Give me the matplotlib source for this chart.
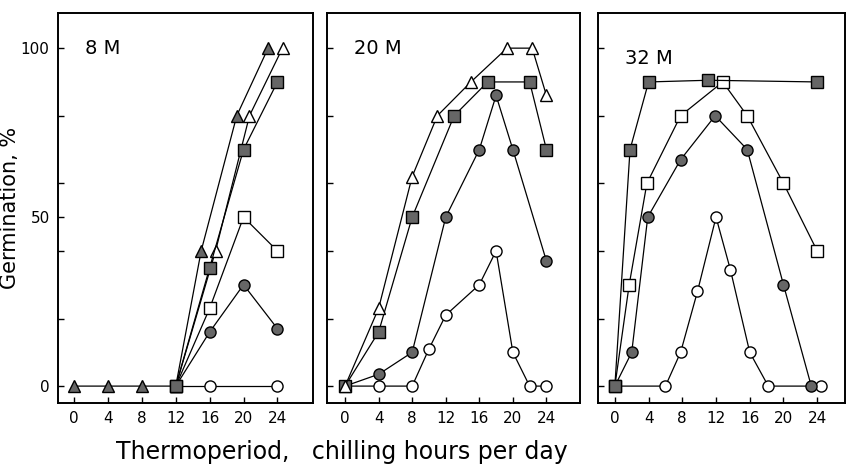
import matplotlib.pyplot as plt

# 8 M
m8_ftri_x = [0, 4, 8, 12, 15, 19.2, 22.9]
m8_ftri_y = [0, 0, 0, 0, 40, 80, 100]
m8_otri_x = [12, 16.7, 20.7, 24.6]
m8_otri_y = [0, 40, 80, 100]
m8_fsq_x = [12, 16, 20, 24]
m8_fsq_y = [0, 35, 70, 90]
m8_osq_x = [12, 16, 20, 24]
m8_osq_y = [0, 23, 50, 40]
m8_fcir_x = [12, 16, 20, 24]
m8_fcir_y = [0, 16, 30, 17]
m8_ocir_x = [12, 16, 24]
m8_ocir_y = [0, 0, 0]

# 20 M
m20_otri_x = [0, 4, 8, 11, 15, 19.3, 22.3, 24]
m20_otri_y = [0, 23, 62, 80, 90, 100, 100, 86]
m20_fsq_x = [0, 4, 8, 13, 17, 22, 24]
m20_fsq_y = [0, 16, 50, 80, 90, 90, 70]
m20_fcir_x = [0, 4, 8, 12, 16, 18, 20, 24]
m20_fcir_y = [0, 3.5, 10, 50, 70, 86, 70, 37]
m20_ocir_x = [0, 4, 8, 10, 12, 16, 18, 20, 22, 24]
m20_ocir_y = [0, 0, 0, 11, 21, 30, 40, 10, 0, 0]

# 32 M
m32_fsq_x = [0, 1.8, 4, 11.1, 24]
m32_fsq_y = [0, 70, 90, 90.5, 90]
m32_osq_x = [0, 1.7, 3.8, 7.8, 12.8, 15.7, 20, 24]
m32_osq_y = [0, 30, 60, 80, 90, 80, 60, 40]
m32_fcir_x = [0, 2, 3.9, 7.8, 11.9, 15.7, 20, 23.3]
m32_fcir_y = [0, 10, 50, 67, 80, 70, 30, 0]
m32_ocir_x = [0, 6, 7.8, 9.8, 12, 13.7, 16, 18.2, 24.5]
m32_ocir_y = [0, 0, 10, 28, 50, 34.5, 10, 0, 0]

xticks = [0, 4, 8, 12, 16, 20, 24]
fill = '#666666'

plt.rcParams['font.family'] = 'DejaVu Sans'

fig = plt.figure(figsize=(8.47, 4.66), dpi=100)
ax1 = fig.add_axes([58 / 847, 63 / 466, 255 / 847, 390 / 466])
ax2 = fig.add_axes([327 / 847, 63 / 466, 253 / 847, 390 / 466])
ax3 = fig.add_axes([598 / 847, 63 / 466, 247 / 847, 390 / 466])


def series(ax, x, y, marker, filled, ms=8):
    ax.plot(x, y, color='black', lw=0.9, marker=marker, ms=ms,
            mfc=fill if filled else 'white', mec='black', mew=1.0, zorder=3)


series(ax1, m8_otri_x, m8_otri_y, '^', False, 9)
series(ax1, m8_ftri_x, m8_ftri_y, '^', True, 9)
series(ax1, m8_ocir_x, m8_ocir_y, 'o', False)
series(ax1, m8_fcir_x, m8_fcir_y, 'o', True)
series(ax1, m8_osq_x, m8_osq_y, 's', False)
series(ax1, m8_fsq_x, m8_fsq_y, 's', True)

series(ax2, m20_ocir_x, m20_ocir_y, 'o', False)
series(ax2, m20_fcir_x, m20_fcir_y, 'o', True)
series(ax2, m20_fsq_x, m20_fsq_y, 's', True)
series(ax2, m20_otri_x, m20_otri_y, '^', False, 9)

series(ax3, m32_ocir_x, m32_ocir_y, 'o', False)
series(ax3, m32_fcir_x, m32_fcir_y, 'o', True)
series(ax3, m32_osq_x, m32_osq_y, 's', False)
series(ax3, m32_fsq_x, m32_fsq_y, 's', True)

xlims = [(-1.9, 28.2), (-2.15, 28.0), (-2.0, 27.3)]
for ax, lim, name, ty in zip([ax1, ax2, ax3], xlims, ['8 M', '20 M', '32 M'], [100, 100, 97]):
    ax.set_xlim(*lim)
    ax.set_ylim(-5, 110.4)
    ax.set_xticks(xticks)
    ax.set_yticks([0, 20, 40, 60, 80, 100])
    ax.tick_params(direction='in', length=4, width=1, labelsize=11, pad=6)
    for s in ax.spines.values():
        s.set_linewidth(1.4)
    ax.text(lim[0] + 3.2, ty, name, fontsize=14, va='center', ha='left')

ax1.set_yticks([0, 20, 40, 50, 60, 80, 100])
ax1.set_yticklabels(['0', '', '', '50', '', '', '100'])
ax2.set_yticklabels([])
ax3.set_yticklabels([])
ax1.set_ylabel('Germination, %', fontsize=15)
ax1.yaxis.set_label_coords(-0.15, 0.5)

fig.text(0.404, 0.030, 'Thermoperiod,   chilling hours per day', fontsize=17,
         ha='center', va='center')

fig.savefig('out.png', dpi=100)
